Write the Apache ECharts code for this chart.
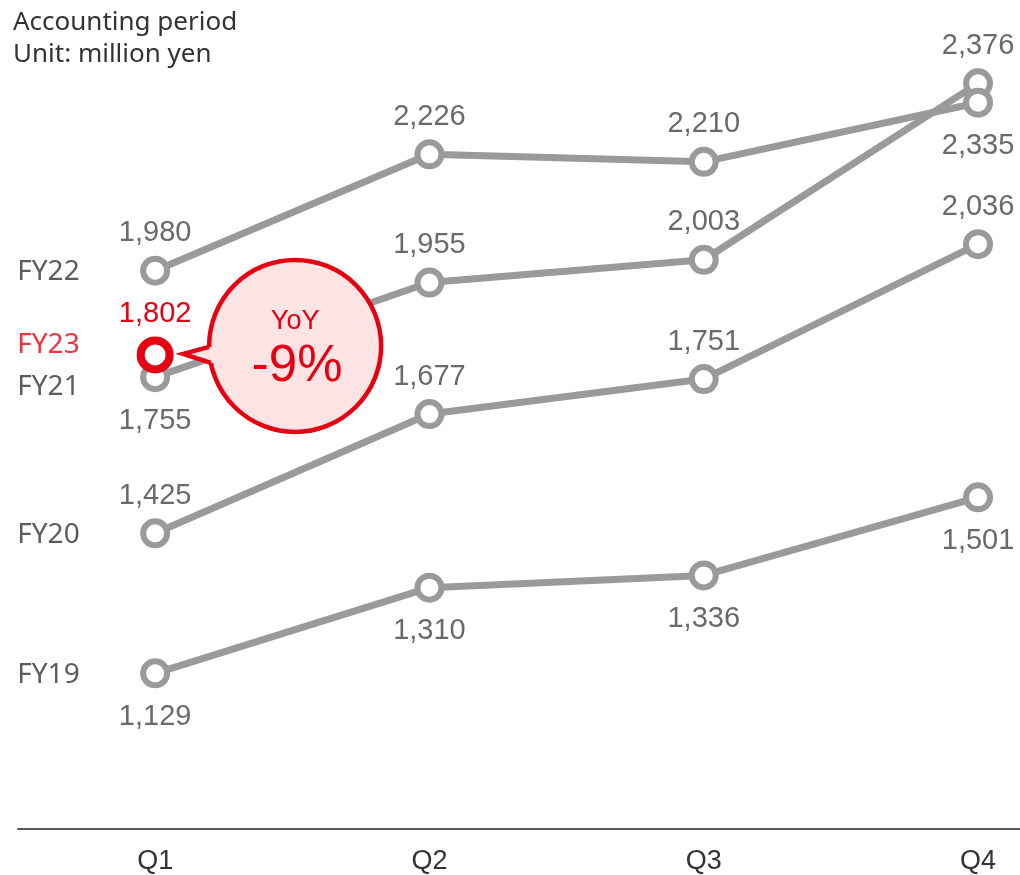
<!DOCTYPE html>
<html><head><meta charset="utf-8">
<script src="https://cdn.jsdelivr.net/npm/echarts@6/dist/echarts.min.js"></script>
<style>html,body{margin:0;padding:0;background:#fff}#c{width:1020px;height:875px}</style>
</head><body><div id="c"></div>
<script>
// ---- data ----
const quarters = ['Q1', 'Q2', 'Q3', 'Q4'];
const seriesNames = ['FY19', 'FY20', 'FY21', 'FY22', 'FY23'];
const fy19 = [1129, 1310, 1336, 1501];
const fy20 = [1425, 1677, 1751, 2036];
const fy21 = [1755, 1955, 2003, 2376];
const fy22 = [1980, 2226, 2210, 2335];
const fy23 = [1802];
const yoyLines = ['YoY', '-9%'];
const headerLines = ['Accounting period', 'Unit: million yen'];

// ---- styling config ----
const labelSide = {
  FY19: ['bottom', 'bottom', 'bottom', 'bottom'],
  FY20: ['top', 'top', 'top', 'top'],
  FY21: ['bottom', 'top', 'top', 'top'],
  FY22: ['top', 'top', 'top', 'bottom'],
  FY23: ['top']
};
const sideDistance = { top: 8, bottom: 14 };
const nameDy = { FY19: 2, FY20: 2, FY21: 10, FY22: 1, FY23: -10 };
const GREY = '#9a9a9a', RED = '#e60012', LABEL_GREY = '#6a6a6a';
const NUM_FONT = "'Liberation Sans', Arial, sans-serif";
const TXT_FONT = "'Noto Sans', 'Open Sans', sans-serif";

const values = { FY19: fy19, FY20: fy20, FY21: fy21, FY22: fy22, FY23: fy23 };
const fmt = v => v.toLocaleString('en-US');

const chart = echarts.init(document.getElementById('c'), null, { renderer: 'canvas' });

const series = [];
seriesNames.forEach(name => {
  const isRed = name === 'FY23';
  const col = isRed ? RED : GREY;
  series.push({
    type: 'line',
    name: name,
    data: values[name].map((v, i) => ({
      value: [i, v],
      label: { position: labelSide[name][i], distance: sideDistance[labelSide[name][i]] }
    })),
    symbol: 'circle',
    symbolSize: isRed ? 29 : 24,
    showAllSymbol: true,
    lineStyle: { color: GREY, width: 7 },
    itemStyle: { color: '#fff', borderColor: col, borderWidth: isRed ? 8 : 6 },
    label: {
      show: true,
      formatter: p => fmt(p.value[1]),
      fontFamily: NUM_FONT,
      fontSize: 29,
      color: isRed ? RED : LABEL_GREY
    },
    emphasis: { disabled: true },
    z: isRed ? 5 : 2
  });
  series.push({
    type: 'scatter',
    name: name + '-name',
    data: [[0, values[name][0]]],
    symbolSize: 1,
    itemStyle: { color: 'transparent' },
    label: {
      show: true,
      formatter: name,
      position: 'left',
      distance: 75,
      offset: [0, nameDy[name]],
      fontFamily: TXT_FONT,
      fontSize: 28,
      color: isRed ? RED : '#333'
    },
    emphasis: { disabled: true },
    silent: true,
    z: 1
  });
});

chart.setOption({
  animation: false,
  backgroundColor: '#fff',
  title: {
    text: headerLines.join('\n'),
    left: 13, top: 7, padding: 0,
    textStyle: { fontFamily: TXT_FONT, fontSize: 26, fontWeight: 'normal', color: '#333', lineHeight: 32 }
  },
  grid: { left: 18, right: 0, top: 1, bottom: 42 },
  xAxis: {
    type: 'value',
    min: -0.5, max: 3.153,
    splitLine: { show: false },
    axisTick: { show: false },
    axisLine: { show: true, onZero: false, lineStyle: { color: '#555', width: 2 } },
    axisLabel: {
      customValues: [0, 1, 2, 3],
      formatter: v => quarters[Math.round(v)],
      fontFamily: NUM_FONT, fontSize: 27, color: '#333', margin: 19
    }
  },
  yAxis: { type: 'value', min: 800, max: 2550, show: false },
  series: series
});

// speech bubble anchored to FY23 Q1 point
const idx23 = seriesNames.indexOf('FY23') * 2;
const p = chart.convertToPixel({ seriesIndex: idx23 }, [0, fy23[0]]);
const cx = p[0] + 140, cy = p[1] - 9, r = 86;
const BUB_FILL = '#fce4e4';
chart.setOption({
  graphic: [{
    type: 'group',
    x: cx, y: cy,
    z: 100,
    children: [
      {
        type: 'circle', z: 100,
        shape: { cx: 0, cy: 0, r: r },
        style: { fill: BUB_FILL, stroke: RED, lineWidth: 4.5 }
      },
      {
        type: 'polygon', z: 101,
        shape: { points: [[-112, 8], [-86, 1], [-78, 1], [-78, 17], [-84.3, 17]] },
        style: { fill: BUB_FILL }
      },
      {
        type: 'polyline', z: 102,
        shape: { points: [[-86, 1], [-112, 8], [-84.3, 17]] },
        style: { stroke: RED, lineWidth: 4.5, fill: null, lineJoin: 'miter' }
      },
      {
        type: 'text', x: 0, y: -24, z: 103,
        style: { text: yoyLines[0], fill: RED, fontFamily: NUM_FONT, fontSize: 27, align: 'center', verticalAlign: 'middle' }
      },
      {
        type: 'text', x: 2, y: 21, z: 103,
        style: { text: yoyLines[1], fill: RED, fontFamily: NUM_FONT, fontSize: 51, align: 'center', verticalAlign: 'middle' }
      }
    ]
  }]
});
</script></body></html>
